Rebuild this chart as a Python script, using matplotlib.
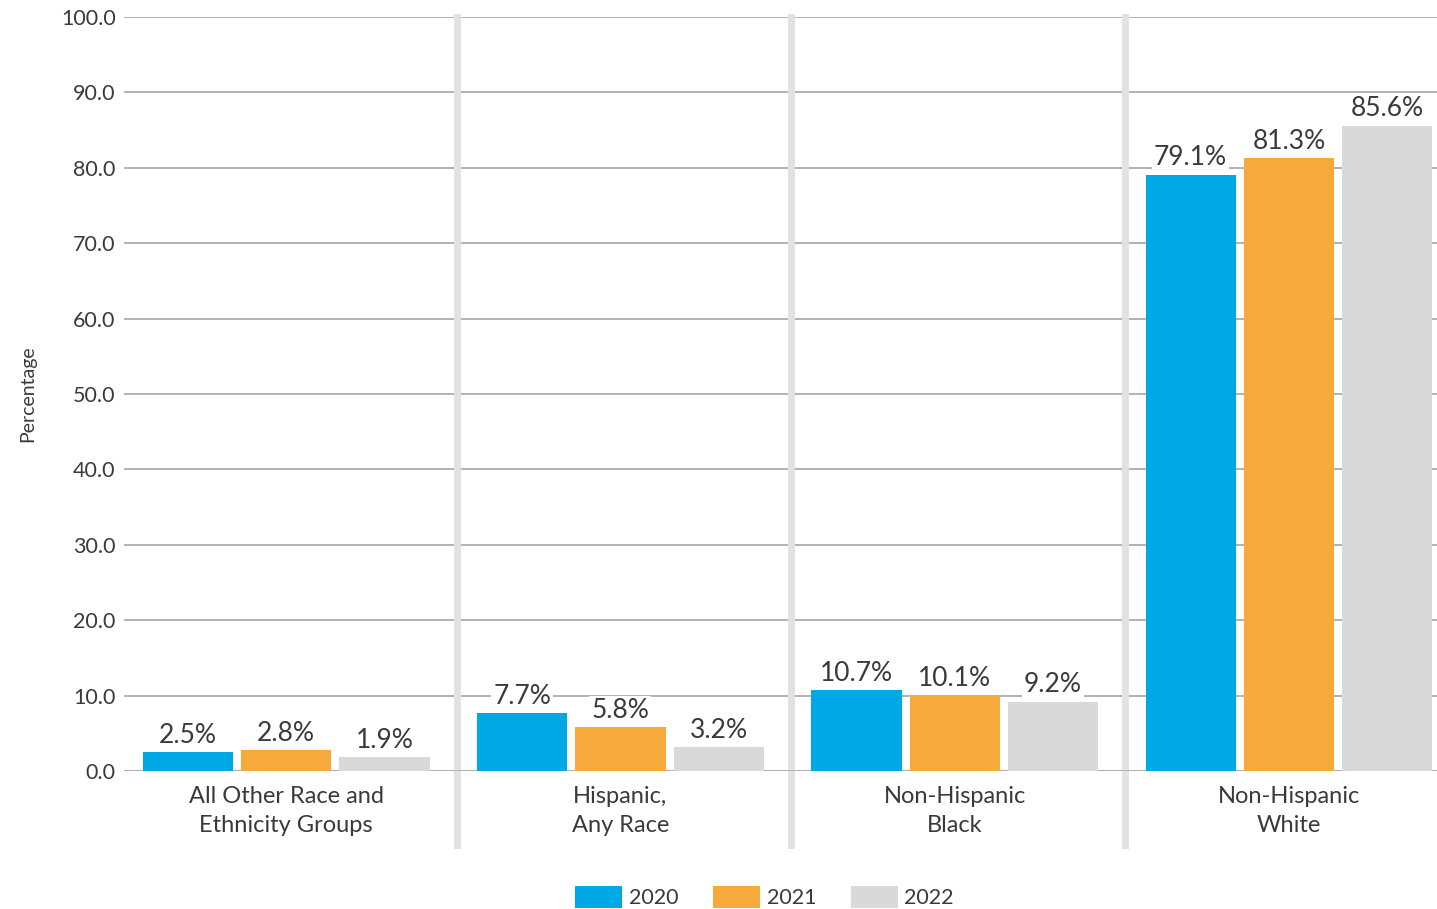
import numpy as np
import matplotlib.pyplot as plt

plt.rcParams['font.family'] = ['Lato', 'DejaVu Sans']

# data
groups = ["All Other Race and\nEthnicity Groups", "Hispanic,\nAny Race",
          "Non-Hispanic\nBlack", "Non-Hispanic\nWhite"]
years = ["2020", "2021", "2022"]
v2020 = [2.5, 7.7, 10.7, 79.1]
v2021 = [2.8, 5.8, 10.1, 81.3]
v2022 = [1.9, 3.2, 9.2, 85.6]
colors = ["#00A8E6", "#F7A93B", "#D9D9D9"]
text_col = "#3a3a3a"

fig = plt.figure(figsize=(14.37, 9.09), dpi=100)
ax = fig.add_axes([0.0863, 0.1518, 0.9137, 0.8295])

x = np.arange(len(groups))
w = 0.27
step = 0.294
for i, (vals, yr, c) in enumerate(zip([v2020, v2021, v2022], years, colors)):
    bars = ax.bar(x + (i - 1) * step, vals, w, color=c, label=yr, zorder=3)
    ax.bar_label(bars, labels=[f"{v:.1f}%" for v in vals], padding=3,
                 fontsize=19, color=text_col, zorder=4,
                 bbox=dict(facecolor="white", edgecolor="none", pad=1.5))

ax.set_ylim(0, 100)
ax.set_xlim(-0.485, 3.443)
ax.set_yticks(np.arange(0, 101, 10))
ax.set_yticklabels([f"{t:.1f}" for t in np.arange(0, 101, 10)])
ax.yaxis.grid(True, color="#a6a6a6", linewidth=1.2, zorder=0)
ax.axhline(0, color="#b0b0b0", linewidth=2, zorder=2)
ax.set_axisbelow(True)

for s in ax.spines.values():
    s.set_visible(False)
ax.tick_params(axis="y", length=0, pad=6, labelsize=15.5, labelcolor=text_col)
ax.set_xticks(x)
ax.set_xticklabels(groups, fontsize=17, color=text_col, linespacing=1.45)
ax.tick_params(axis="x", length=0, pad=11)

# separators between groups
for sx in [0.51, 1.51, 2.51]:
    ax.axvline(sx, ymin=-0.098, ymax=1, color="#e2e2e2", linewidth=5,
               clip_on=False, zorder=1)

ax.set_ylabel("Percentage", fontsize=14, color=text_col, labelpad=18)

fig.legend(loc="center", bbox_to_anchor=(0.532, 0.013), ncol=3, frameon=False,
           fontsize=15.5, handlelength=2.2, handleheight=1.2, handletextpad=0.3,
           columnspacing=1.6, labelcolor=text_col)

fig.savefig("out.png", dpi=100)
